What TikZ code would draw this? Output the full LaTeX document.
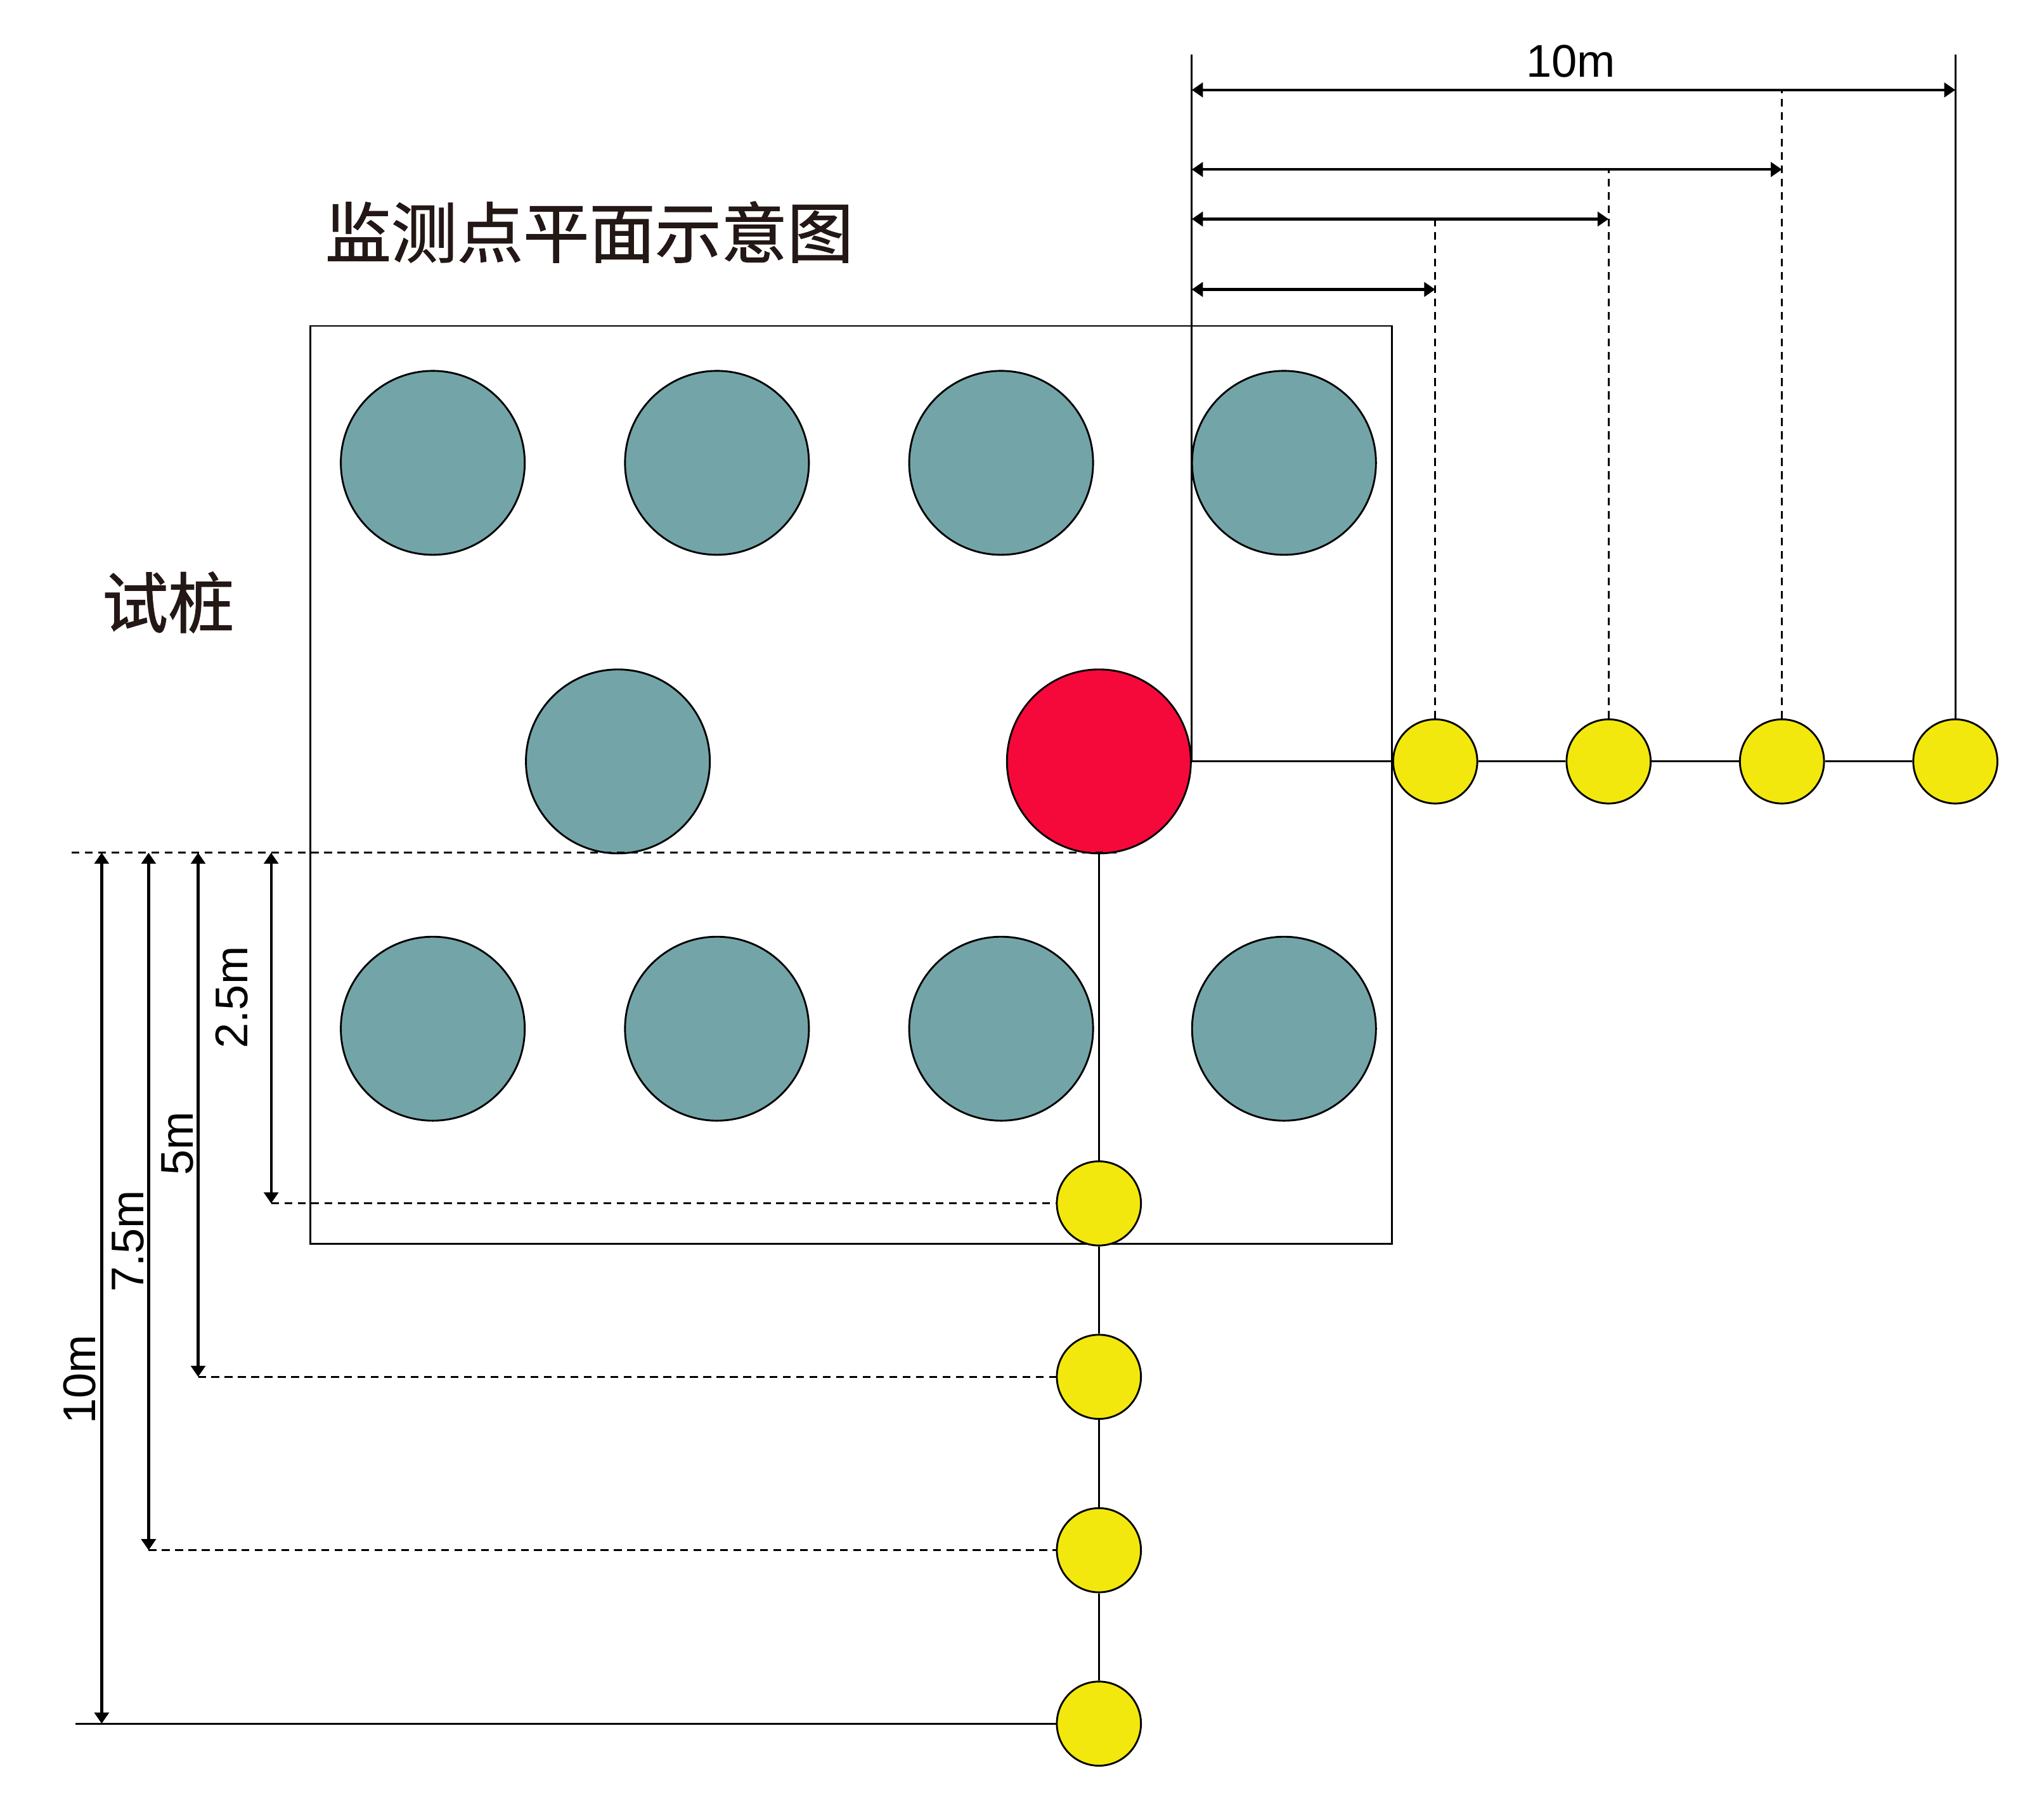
\documentclass[tikz,border=0pt]{standalone}
\usepackage{fontspec}
\setmainfont{Liberation Sans}
\newfontfamily\cjkFont[FakeBold=1.2]{Noto Sans CJK SC}
\usetikzlibrary{arrows.meta}
\definecolor{pileTeal}{RGB}{115,165,168}
\definecolor{pileRed}{RGB}{245,9,58}
\definecolor{pointYellow}{RGB}{242,232,14}
\definecolor{titleColor}{RGB}{35,24,21}
\newcommand\pileSize{1.41cm}
\newcommand\pointSize{0.645cm}
\newcommand\thinLineWidth{0.4pt}
\newcommand\dimLineWidth{0.6pt}
\newcommand\textTitle{监测点平面示意图}
\newcommand\textPile{试桩}

\tikzset{
    pile/.style={draw=black, line width=\thinLineWidth, shape=circle, minimum size=\pileSize, inner sep=0pt, fill=pileTeal},
    testpile/.style={pile, fill=pileRed},
    point/.style={draw=black, line width=\thinLineWidth, shape=circle, minimum size=\pointSize, inner sep=0pt, fill=pointYellow},
    link/.style={line width=\thinLineWidth},
    extline/.style={line width=\thinLineWidth, dash pattern=on 1.7pt off 1.2pt},
    dimline/.style={line width=\dimLineWidth, {Triangle[length=0.85mm,width=1.1mm]}-{Triangle[length=0.85mm,width=1.1mm]}},
    dimtext/.style={font=\fontsize{10}{12}\selectfont, inner sep=0pt},
    cjktext/.style={font=\cjkFont\fontsize{14.4}{16}\selectfont, text=titleColor, inner sep=0pt}
}

\begin{document}
\begin{tikzpicture}[x=0.01cm, y=-0.01cm]
    \useasboundingbox (0,0) rectangle (1568,1394);

    \node [cjktext] (Title) at (452,178) {\textTitle};
    \node [cjktext] (Label_Pile) at (129,462) {\textPile};

    % outline of the pile cap
    \draw [link] (238,250) rectangle (1068,954);

    \foreach \i/\x in {1/332,2/550,3/768,4/985}{
        \node [pile] (Pile_Top_\i) at (\x,355) {};
        \node [pile] (Pile_Bottom_\i) at (\x,789) {};
    }
    \node [pile] (Pile_Middle) at (474,584) {};
    \node [testpile] (Pile_Test) at (843,584) {};

    % monitoring points
    \foreach \i/\x in {1/1101,2/1234,3/1367,4/1500}
        \node [point] (Point_Right_\i) at (\x,584) {};
    \foreach \i/\y in {1/923,2/1056,3/1189,4/1322}
        \node [point] (Point_Down_\i) at (843,\y) {};

    \draw [link] (Pile_Test.east) -- (Point_Right_1.west);
    \draw [link] (Pile_Test.south) -- (Point_Down_1.north);
    \foreach \a/\b in {1/2,2/3,3/4}{
        \draw [link] (Point_Right_\a.east) -- (Point_Right_\b.west);
        \draw [link] (Point_Down_\a.south) -- (Point_Down_\b.north);
    }

    % dimensions on top
    \coordinate (Top_Level) at (0,42);
    \draw [link] (Pile_Test.east) -- (Pile_Test.east |- Top_Level);
    \draw [link] (Point_Right_4.north) -- (Point_Right_4 |- Top_Level);
    \foreach \i/\y in {1/222,2/168,3/130,4/69}{
        \coordinate (Dim_Top_Start_\i) at (Pile_Test.east |- 0,\y);
        \coordinate (Dim_Top_End_\i) at (Point_Right_\i |- 0,\y);
        \draw [dimline] (Dim_Top_Start_\i) -- (Dim_Top_End_\i);
    }
    \foreach \i/\e in {1/168,2/130,3/69}
        \draw [extline] (Point_Right_\i.north) -- (Point_Right_\i |- 0,\e);
    \node [dimtext] (Label_Top) at (1205,47) {10m};

    % dimensions on the left
    \coordinate (Base_Left) at (55,654);
    \coordinate (Base_Right) at (860,654);
    \draw [extline] (Base_Left) -- (Base_Right);
    \foreach \i/\x in {1/208,2/152,3/114,4/78}{
        \coordinate (Dim_Left_Start_\i) at (\x,654);
        \coordinate (Dim_Left_End_\i) at (Point_Down_\i -| Dim_Left_Start_\i);
        \draw [dimline] (Dim_Left_Start_\i) -- (Dim_Left_End_\i);
    }
    \foreach \i in {1,2,3}
        \draw [extline] (Dim_Left_End_\i) -- (Point_Down_\i.west);
    \coordinate (Base_Bottom) at (58,1322);
    \draw [link] (Base_Bottom) -- (Point_Down_4.west);

    \node [dimtext, rotate=90] (Label_Left_1) at (178,765) {2.5m};
    \node [dimtext, rotate=90] (Label_Left_2) at (136,877) {5m};
    \node [dimtext, rotate=90] (Label_Left_3) at (98,952) {7.5m};
    \node [dimtext, rotate=90] (Label_Left_4) at (61,1058) {10m};

\end{tikzpicture}
\end{document}
